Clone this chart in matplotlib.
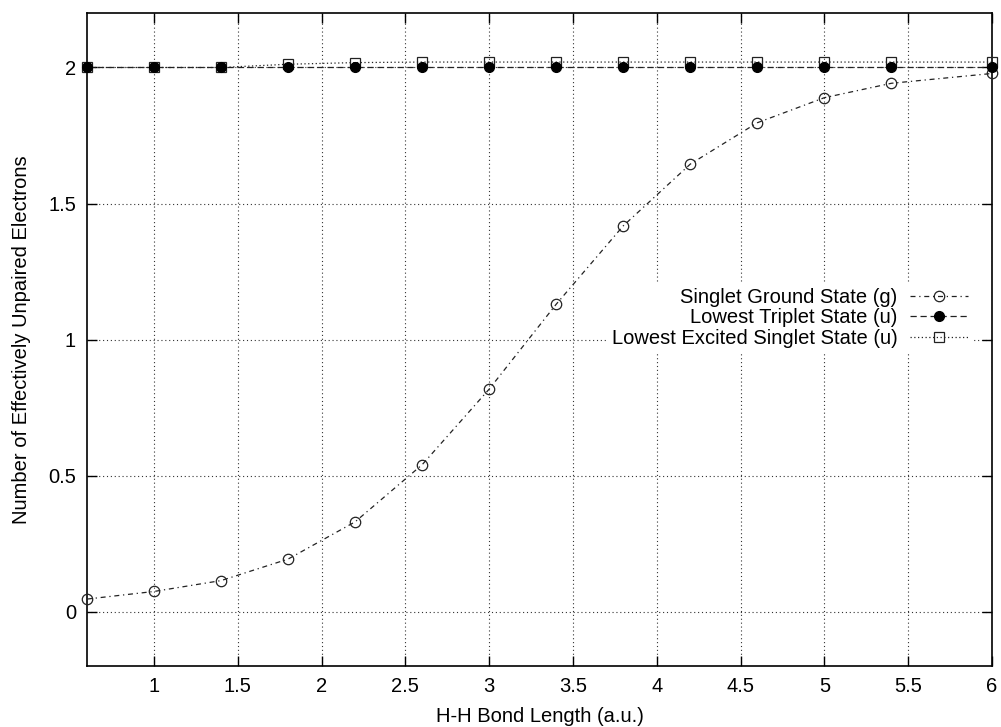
import matplotlib
matplotlib.use("Agg")
import matplotlib.pyplot as plt

plt.rcParams['font.family'] = ['Liberation Sans', 'DejaVu Sans']

# bond lengths (a.u.)
bond_length = [0.6, 1.0, 1.4, 1.8, 2.2, 2.6, 3.0, 3.4, 3.8, 4.2, 4.6, 5.0, 5.4, 6.0]

# number of effectively unpaired electrons
ground_g = [0.046, 0.074, 0.114, 0.193, 0.330, 0.540, 0.818, 1.130, 1.418, 1.645, 1.797, 1.889, 1.942, 1.978]
triplet_u = [2.0, 2.0, 2.0, 2.0, 2.0, 2.0, 2.0, 2.0, 2.0, 2.0, 2.0, 2.0, 2.0, 2.0]
excited_u = [2.0, 2.0, 2.0, 2.012, 2.018, 2.02, 2.02, 2.02, 2.02, 2.02, 2.02, 2.02, 2.02, 2.02]

labels = ["Singlet Ground State (g)", "Lowest Triplet State (u)", "Lowest Excited Singlet State (u)"]
xticks = [1, 1.5, 2, 2.5, 3, 3.5, 4, 4.5, 5, 5.5, 6]
yticks = [0, 0.5, 1, 1.5, 2]

fig = plt.figure(figsize=(10.01, 7.27), dpi=100)
ax = fig.add_axes([0.0869, 0.0839, 0.9041, 0.8981])

fs = 14.5

ax.plot(bond_length, ground_g, color='#222222', lw=0.9, dashes=(4, 3, 1, 3),
        marker='o', ms=7.5, mfc='none', mec='#222222', mew=0.9, clip_on=False,
        label=labels[0], zorder=3)
ax.plot(bond_length, triplet_u, color='#222222', lw=0.9, dashes=(5, 3),
        marker='o', ms=7, mfc='black', mec='black', clip_on=False,
        label=labels[1], zorder=4)
ax.plot(bond_length, excited_u, color='#222222', lw=0.9, dashes=(1, 2),
        marker='s', ms=7.5, mfc='none', mec='#222222', mew=0.9, clip_on=False,
        label=labels[2], zorder=3)

ax.set_xlim(0.6, 6)
ax.set_ylim(-0.2, 2.2)
ax.set_xticks(xticks)
ax.set_xticklabels([f"{t:g}" for t in xticks])
ax.set_yticks(yticks)
ax.set_yticklabels([f"{t:g}" for t in yticks])

ax.grid(True, color='#333333', lw=0.8, dashes=(1, 2.5))
ax.tick_params(direction='in', length=7, width=1, top=True, right=True,
               labelsize=fs, pad=8)
for s in ax.spines.values():
    s.set_linewidth(1.2)

ax.set_xlabel("H-H Bond Length (a.u.)", fontsize=fs, labelpad=8)
ax.set_ylabel("Number of Effectively Unpaired Electrons", fontsize=fs, labelpad=12)

leg = ax.legend(loc='center right', bbox_to_anchor=(0.978, 0.533), fontsize=fs,
                markerfirst=False, frameon=True, fancybox=False, framealpha=1,
                edgecolor='white', facecolor='white', borderpad=0.2,
                labelspacing=0.08, handlelength=2.9, handletextpad=0.6,
                borderaxespad=0)
for t in leg.get_texts():
    t.set_ha('right')
leg._legend_box.align = 'right'

fig.savefig("out.png", dpi=100)
